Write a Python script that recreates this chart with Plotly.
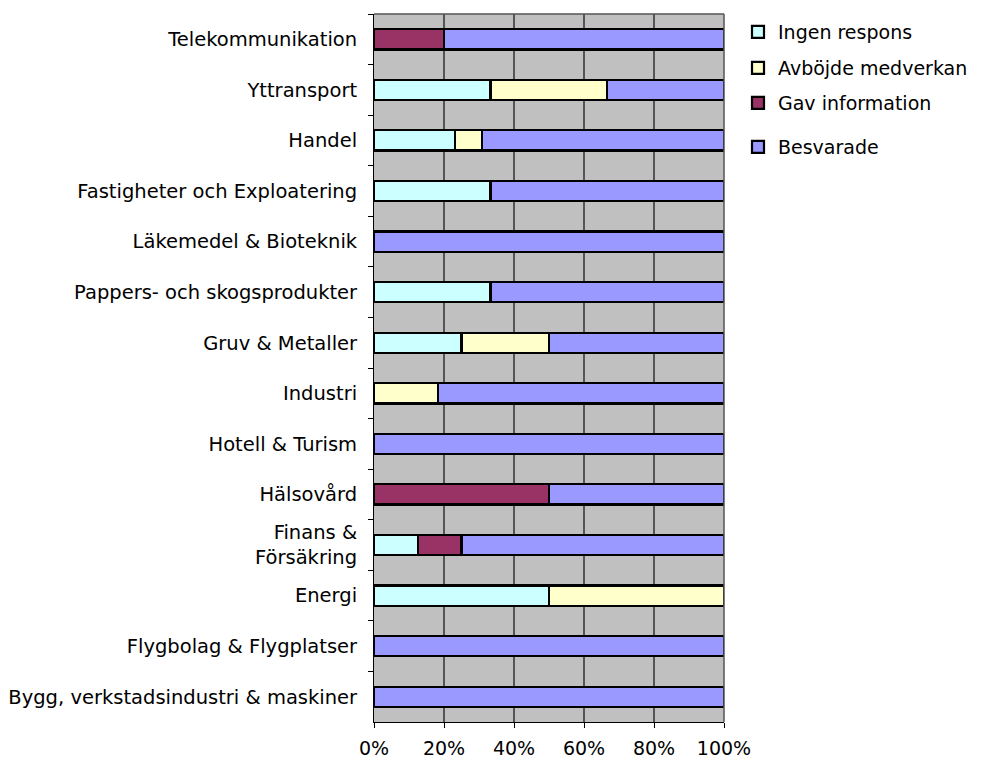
import plotly.graph_objects as go

categories = [
    "Telekommunikation",
    "Yttransport",
    "Handel",
    "Fastigheter och Exploatering",
    "Läkemedel & Bioteknik",
    "Pappers- och skogsprodukter",
    "Gruv & Metaller",
    "Industri",
    "Hotell & Turism",
    "Hälsovård",
    "Finans &<br>Försäkring",
    "Energi",
    "Flygbolag & Flygplatser",
    "Bygg, verkstadsindustri & maskiner",
]

ingen_respons = [0, 33.3, 23.1, 33.3, 0, 33.3, 25, 0, 0, 0, 12.5, 50, 0, 0]
avbojde_medverkan = [0, 33.3, 7.7, 0, 0, 0, 25, 18.2, 0, 0, 0, 50, 0, 0]
gav_information = [20, 0, 0, 0, 0, 0, 0, 0, 0, 50, 12.5, 0, 0, 0]
besvarade = [80, 33.4, 69.2, 66.7, 100, 66.7, 50, 81.8, 100, 50, 75, 0, 100, 100]

series = [
    ("Ingen respons", ingen_respons, "#CCFFFF"),
    ("Avböjde medverkan", avbojde_medverkan, "#FFFFCC"),
    ("Gav information", gav_information, "#993366"),
    ("Besvarade", besvarade, "#9999FF"),
]

FONT = "DejaVu Sans"
W, H = 987, 752  # page adds an 8px body margin
L, R, T, B = 366, 271, 6, 38
plot_w = W - L - R
plot_h = H - T - B

legend_names = ["legend", "legend2", "legend3", "legend4"]
legend_y_px = [32, 68, 103, 147]  # centers in page pixels

fig = go.Figure()
for (name, vals, color), lg in zip(series, legend_names):
    fig.add_trace(go.Bar(
        y=categories, x=vals, name=name, orientation="h",
        marker=dict(color=color, line=dict(color="black", width=2.2)),
        legend=lg,
    ))

layout_legends = {}
for lg, ypx in zip(legend_names, legend_y_px):
    yfig = ypx - 8
    ypaper = 1 - (yfig - T) / plot_h
    layout_legends[lg] = dict(
        x=(738 - 8 - L) / plot_w, y=ypaper, xanchor="left", yanchor="middle",
        font=dict(family=FONT, size=19, color="black"),
        itemwidth=30, bgcolor="rgba(0,0,0,0)", borderwidth=0,
    )

fig.update_layout(
    barmode="stack",
    bargap=0.6,
    width=W, height=H,
    margin=dict(l=L, r=R, t=T, b=B, autoexpand=False),
    paper_bgcolor="white",
    plot_bgcolor="#C0C0C0",
    font=dict(family=FONT, size=19, color="black"),
    showlegend=True,
    xaxis=dict(
        range=[0, 100],
        tickvals=[0, 20, 40, 60, 80, 100],
        ticktext=["0%", "20%", "40%", "60%", "80%", "100%"],
        showgrid=True, gridcolor="#555555", gridwidth=1.5,
        zeroline=False,
        showline=True, linecolor="black", linewidth=1,
        ticks="outside", ticklen=5, tickcolor="black",
        tickfont=dict(family=FONT, size=19),
        ticklabelstandoff=4,
        automargin=False,
    ),
    yaxis=dict(
        type="category",
        categoryorder="array", categoryarray=categories,
        autorange="reversed",
        showline=True, linecolor="black", linewidth=1,
        ticks="outside", ticklen=5, tickcolor="black",
        tickson="boundaries",
        showgrid=False,
        tickfont=dict(family=FONT, size=19.5),
        ticklabelstandoff=12,
        automargin=False,
    ),
    **layout_legends,
)

# top and right border of the plot area
fig.add_shape(type="line", xref="paper", yref="paper", x0=0, x1=1, y0=1, y1=1,
              line=dict(color="#555555", width=1.5))
fig.add_shape(type="line", xref="paper", yref="paper", x0=1, x1=1, y0=0, y1=1,
              line=dict(color="#555555", width=1.5))

fig.write_html("out.html")
